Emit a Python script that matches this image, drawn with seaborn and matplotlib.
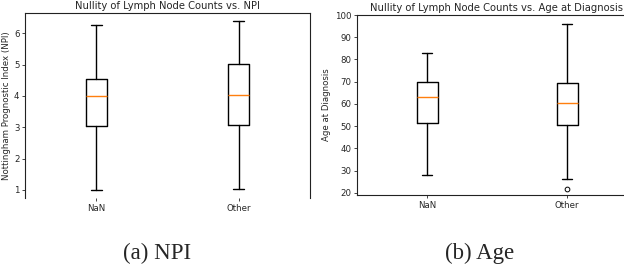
import matplotlib
matplotlib.use("Agg")
import matplotlib.pyplot as plt
import seaborn as sns

# box statistics
groups = ["NaN", "Other"]

npi_low = [1.00, 1.03]
npi_q1 = [3.03, 3.06]
npi_med = [4.00, 4.04]
npi_q3 = [4.55, 5.02]
npi_high = [6.28, 6.38]
npi_fliers = [[], []]

age_low = [28.0, 26.5]
age_q1 = [51.5, 50.5]
age_med = [63.0, 60.3]
age_q3 = [70.0, 69.5]
age_high = [83.0, 96.0]
age_fliers = [[], [22.0]]


def make_stats(low, q1, med, q3, high, fliers):
    stats = []
    for i, g in enumerate(groups):
        stats.append({"label": g, "whislo": low[i], "q1": q1[i], "med": med[i],
                      "q3": q3[i], "whishi": high[i], "fliers": fliers[i]})
    return stats


sns.set_style("ticks")
plt.rcParams["font.family"] = ["DejaVu Sans"]

fig = plt.figure(figsize=(6.24, 2.64), dpi=100)
ax1 = fig.add_axes([25 / 624, 66 / 264, 285 / 624, 185 / 264])
ax2 = fig.add_axes([357 / 624, 69 / 264, 280 / 624, 180 / 264])

lw = 1.0
props = dict(boxprops=dict(color="black", linewidth=lw),
             whiskerprops=dict(color="black", linewidth=lw),
             capprops=dict(color="black", linewidth=lw),
             medianprops=dict(color="#ff7f0e", linewidth=lw),
             flierprops=dict(marker="o", markersize=3.4, markerfacecolor="none",
                             markeredgecolor="black", markeredgewidth=0.7))

ax1.bxp(make_stats(npi_low, npi_q1, npi_med, npi_q3, npi_high, npi_fliers), **props)
ax2.bxp(make_stats(age_low, age_q1, age_med, age_q3, age_high, age_fliers), **props)

ax1.set_ylim(0.74, 6.65)
ax2.set_ylim(19.1, 100)
ax2.set_yticks(range(20, 101, 10))

ax1.set_title("Nullity of Lymph Node Counts vs. NPI", fontsize=7.2, pad=3)
ax2.set_title("Nullity of Lymph Node Counts vs. Age at Diagnosis", fontsize=7.2, pad=3)
ax1.set_ylabel("Nottingham Prognostic Index (NPI)", fontsize=6.2, labelpad=2)
ax2.set_ylabel("Age at Diagnosis", fontsize=6.2, labelpad=3)

for ax in (ax1, ax2):
    ax.set_facecolor("white")
    for s in ax.spines.values():
        s.set_color("#222222")
        s.set_linewidth(0.8)
    ax.tick_params(labelsize=6.2, length=2, width=0.6, pad=2)
ax1.spines["bottom"].set_visible(False)

fig.text(157 / 624, 1 - 253 / 264, "(a) NPI", family="Liberation Serif",
         fontsize=16.5, ha="center", va="center")
fig.text(480 / 624, 1 - 253 / 264, "(b) Age", family="Liberation Serif",
         fontsize=16.5, ha="center", va="center")

fig.savefig("out.png", dpi=100, facecolor="white")
